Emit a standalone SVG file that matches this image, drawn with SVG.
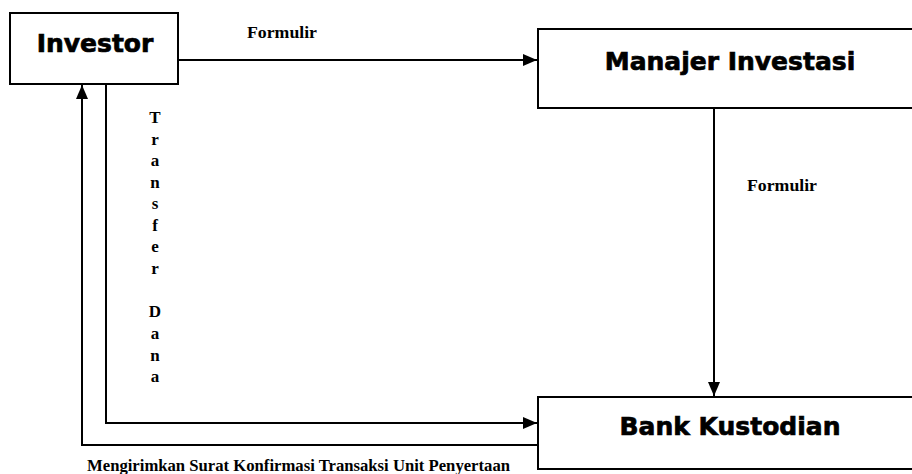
<svg xmlns="http://www.w3.org/2000/svg" width="912" height="474" viewBox="0 0 912 474">
<style>
.box{fill:#fff;stroke:#000;stroke-width:2}
.ln{fill:none;stroke:#000;stroke-width:2}
.nt{font-family:"DejaVu Sans","Liberation Sans",sans-serif;font-weight:bold;font-size:25px;fill:#000;stroke:#000;stroke-width:0.7;text-anchor:middle}
.lb{font-family:"Liberation Serif",serif;font-weight:bold;font-size:16px;fill:#000}
.vt{font-family:"Liberation Serif",serif;font-weight:bold;font-size:17px;fill:#000;text-anchor:middle}
</style>
<defs>
<marker id="ah" markerWidth="14" markerHeight="12" refX="14" refY="6" orient="auto" markerUnits="userSpaceOnUse">
<path d="M0,0 L14,6 L0,12 Z" fill="#000"/>
</marker>
</defs>
<rect width="912" height="474" fill="#fff"/>
<g id="connectors">
<line class="ln" x1="178" y1="60" x2="537" y2="60" marker-end="url(#ah)"/>
<line class="ln" x1="714" y1="108" x2="714" y2="396" marker-end="url(#ah)"/>
<polyline class="ln" points="106,84 106,423 537,423" marker-end="url(#ah)"/>
<polyline class="ln" points="538,445 82,445 82,85" marker-end="url(#ah)"/>
<text class="lb" x="247" y="38" textLength="70" lengthAdjust="spacingAndGlyphs">Formulir</text>
<text class="lb" x="747" y="191" textLength="70" lengthAdjust="spacingAndGlyphs">Formulir</text>
<text class="lb" x="87" y="471" textLength="423" lengthAdjust="spacingAndGlyphs">Mengirimkan Surat Konfirmasi Transaksi Unit Penyertaan</text>
<g class="vt">
<text x="155" y="123">T</text>
<text x="155" y="145">r</text>
<text x="155" y="166">a</text>
<text x="155" y="188">n</text>
<text x="155" y="209">s</text>
<text x="155" y="231">f</text>
<text x="155" y="252">e</text>
<text x="155" y="274">r</text>
<text x="155" y="317">D</text>
<text x="155" y="339">a</text>
<text x="155" y="361">n</text>
<text x="155" y="382">a</text>
</g>
</g>
<g id="investor">
<rect class="box" x="10" y="13" width="168" height="71"/>
<text class="nt" x="95" y="52">Investor</text>
</g>
<g id="manajer">
<rect class="box" x="538" y="29" width="380" height="79"/>
<text class="nt" x="730" y="70">Manajer Investasi</text>
</g>
<g id="bank">
<rect class="box" x="538" y="397" width="380" height="72"/>
<text class="nt" x="730" y="435">Bank Kustodian</text>
</g>
</svg>
